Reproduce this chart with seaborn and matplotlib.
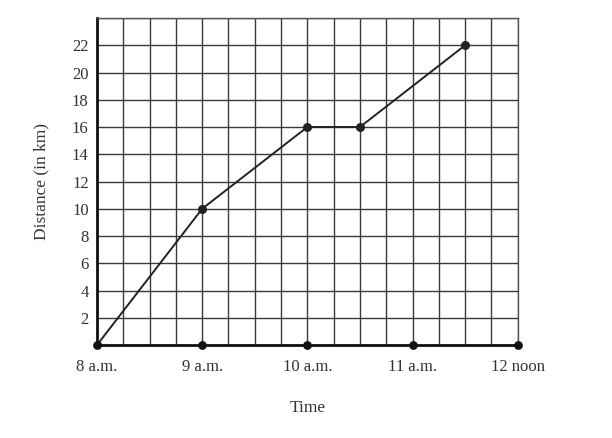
import numpy as np
import pandas as pd
import seaborn as sns
import matplotlib.pyplot as plt

# journey data (hours after midnight, km)
time_h = [8, 9, 10, 10.5, 11.5]
distance_km = [0, 10, 16, 16, 22]

# hour marks shown on the time axis
hour_marks = [8, 9, 10, 11, 12]
hour_labels = ["8 a.m.", "9 a.m.", "10 a.m.", "11 a.m.", "12 noon"]
dist_ticks = [2, 4, 6, 8, 10, 12, 14, 16, 18, 20, 22]

sns.set_theme(style="white")
plt.rcParams['font.family'] = ['Liberation Serif', 'DejaVu Serif']

df = pd.DataFrame({"Time": time_h, "Distance": distance_km})
marks_df = pd.DataFrame({"Time": hour_marks, "Distance": [0] * len(hour_marks)})

fig = plt.figure(figsize=(6.12, 4.38), dpi=100)
ax = fig.add_axes([0.1585, 0.2123, 0.6875, 0.7466])

# graph-paper grid: quarter hours and every 2 km
for gx in np.arange(8, 12.01, 0.25):
    ax.axvline(gx, color="#3a3a3a", linewidth=1.0, zorder=1)
for gy in np.arange(0, 24.01, 2):
    ax.axhline(gy, color="#3a3a3a", linewidth=1.0, zorder=1)

sns.lineplot(data=df, x="Time", y="Distance", color="#222222", linewidth=1.4,
             marker="o", markersize=6.5, markeredgewidth=0, ax=ax, zorder=3)
sns.scatterplot(data=marks_df, x="Time", y="Distance", color="#111111", s=40,
                linewidth=0, ax=ax, zorder=4, clip_on=False)

ax.set_xlim(8, 12)
ax.set_ylim(0, 24)
ax.set_xticks(hour_marks)
ax.set_xticklabels(hour_labels, fontsize=12, color="#333333")
ax.set_yticks(dist_ticks)
ax.set_yticklabels([str(v) for v in dist_ticks], fontsize=12, color="#333333")
ax.tick_params(axis="both", which="both", length=0)
ax.tick_params(axis="x", pad=10)
ax.tick_params(axis="y", pad=6)

for side in ["top", "right"]:
    ax.spines[side].set_color("#555555")
    ax.spines[side].set_linewidth(1.0)
for side in ["left", "bottom"]:
    ax.spines[side].set_color("#111111")
    ax.spines[side].set_linewidth(2.0)

ax.set_xlabel("Time", fontsize=12.5, color="#333333", labelpad=18)
ax.set_ylabel("Distance (in km)", fontsize=12.5, color="#333333", labelpad=16)

fig.savefig("out.png", dpi=100)
